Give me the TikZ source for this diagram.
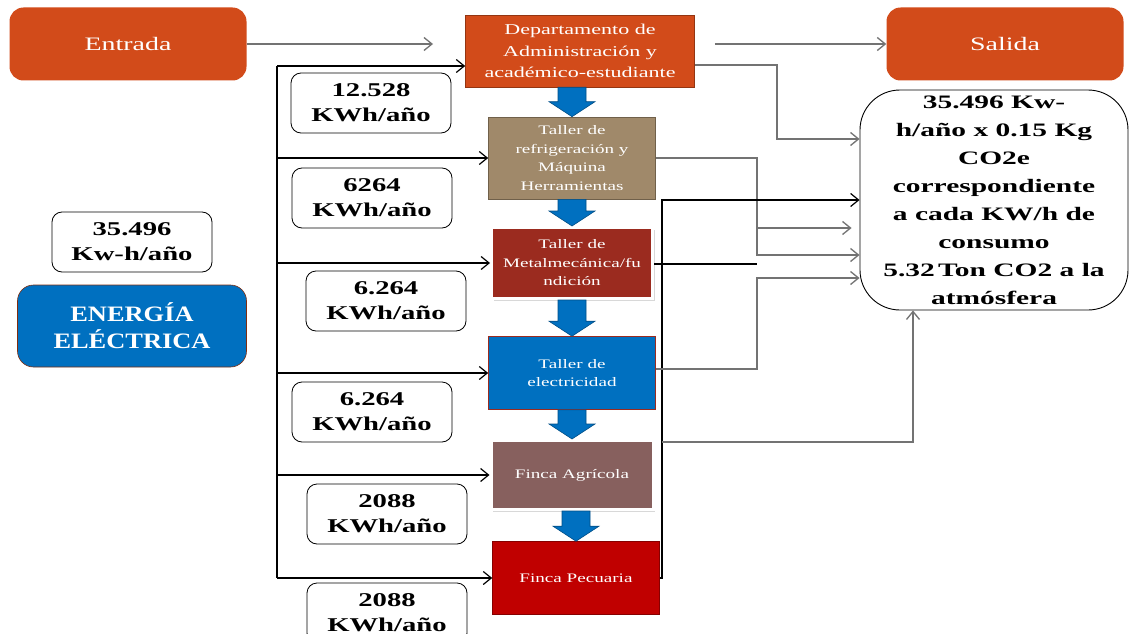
\documentclass[tikz,border=0pt]{standalone}
\usepackage{fontspec}
\setmainfont{Liberation Serif}[FakeStretch=1.47]
\newfontfamily\bigfont{Liberation Serif}[FakeStretch=1.55]
\newfontfamily\capfont{Liberation Serif}[FakeStretch=1.2]
\usetikzlibrary{arrows.meta,calc,shadows}

\definecolor{naranja}{HTML}{D24B1A}
\definecolor{arena}{HTML}{A0896A}
\definecolor{oxido}{HTML}{9B2B1F}
\definecolor{azul}{HTML}{0070C0}
\definecolor{malva}{HTML}{87605E}
\definecolor{rojo}{HTML}{C00000}

% flecha gruesa azul entre dos cajas
\newcommand{\flechaazul}[2]{%
  \fill[azul, draw=azul!70!black, line width=0.6pt]
    let \p1=(#1.south), \p2=(#2.north) in
    (\x2-14pt,\y1) -- (\x2+14pt,\y1) -- (\x2+14pt,\y2+15pt) -- (\x2+23pt,\y2+15pt)
    -- (\x2,\y2) -- (\x2-23pt,\y2+15pt) -- (\x2-14pt,\y2+15pt) -- cycle;}

\begin{document}
\begin{tikzpicture}[x=1pt, y=-1pt, >={Straight Barb[length=8pt,width=13pt]},
    cabeza/.style={fill=naranja, rounded corners=14pt, text=white, minimum width=237pt,
      minimum height=73pt, font=\fontsize{19}{22}\selectfont},
    depto/.style={fill=#1, draw=#1!70!black, line width=0.6pt, text=white, align=center,
      inner sep=0pt, font=\fontsize{13}{18.5}\selectfont},
    marco/.style={draw=white, line width=3pt,
      drop shadow={shadow xshift=2pt, shadow yshift=-2pt, opacity=0.3}},
    valor/.style={draw=black, line width=0.8pt, rounded corners=10pt, fill=white, align=center,
      minimum width=160pt, minimum height=60pt, inner sep=1pt,
      font=\bfseries\fontsize{19.5}{25}\selectfont},
    negra/.style={black, line width=1.2pt},
    gris/.style={black!55, line width=1.3pt}]

    % 1. fondo y margenes
    \useasboundingbox[fill=white] (0,0) rectangle (1130,634);

    % 2. entrada, salida y cajas de consumo
    \node[cabeza] (entrada) at (128,44) {Entrada};
    \node[cabeza] (salida) at (1005,44) {Salida};
    \node[depto=naranja, minimum width=229pt, minimum height=72pt,
      font=\fontsize{15}{21.5}\selectfont] (depto) at (580,51)
      {Departamento de\\Administración y\\académico-estudiante};
    \node[depto=arena, minimum width=167pt, minimum height=82pt] (tref) at (572,158)
      {Taller de\\refrigeración y\\Máquina\\Herramientas};
    \node[depto=oxido, marco, minimum width=161pt, minimum height=71pt] (tmet) at (572,263)
      {Taller de\\Metalmecánica/fu\\ndición};
    \node[depto=azul, draw=oxido, minimum width=167pt, minimum height=73pt] (tele) at (572,373)
      {Taller de\\electricidad};
    \node[depto=malva, marco, minimum width=162pt, minimum height=69pt] (fagr) at (572,475)
      {Finca Agrícola};
    \node[depto=rojo, minimum width=167pt, minimum height=73pt] (fpec) at (576,578)
      {Finca Pecuaria};

    % 3. flechas azules de arriba abajo
    \flechaazul{depto}{tref}
    \flechaazul{tref}{tmet}
    \flechaazul{tmet}{tele}
    \flechaazul{tele}{fagr}
    \flechaazul{fagr}{fpec}

    % 4. valores de consumo
    \node[valor] (v1) at (371,103) {12.528\\KWh/año};
    \node[valor] (v2) at (372,198) {6264\\KWh/año};
    \node[valor] (v3) at (386,301) {6.264\\KWh/año};
    \node[valor] (v4) at (372,412) {6.264\\KWh/año};
    \node[valor] (v5) at (387,514) {2088\\KWh/año};
    \node[valor] (v6) at (387,613) {2088\\KWh/año};
    \node[valor] (total) at (132,242) {35.496\\Kw-h/año};
    \node[fill=azul, draw=naranja!60!black, line width=0.6pt, rounded corners=16pt,
      minimum width=229pt, minimum height=82pt, align=center, text=white,
      font=\capfont\bfseries\fontsize{22}{27}\selectfont] (energia) at (132,326)
      {ENERGÍA\\ELÉCTRICA};

    % 5. caja de emisiones
    \node[draw=black, line width=0.9pt, rounded corners=40pt, minimum width=268pt,
      minimum height=220pt, inner sep=1pt, align=center,
      font=\bigfont\bfseries\fontsize{19}{28}\selectfont] (co2) at (994,200)
      {35.496 Kw-\\h/año x 0.15 Kg\\CO2e\\correspondiente\\a cada KW/h de\\consumo\\5.32\,Ton CO2 a la\\atmósfera};

    % 6. barra de alimentacion a la izquierda
    \coordinate (bus) at (277,66);
    \draw[negra] (bus) -- (bus |- fpec.west);
    \draw[negra,->] (bus) -- ([yshift=-15pt]depto.west);
    \foreach \n in {tref,tmet,tele,fagr,fpec}
        \draw[negra,->] (bus |- \n.west) -- (\n.west);

    % 7. flechas de arriba
    \coordinate (entra) at (433,44);
    \draw[gris,->] (entrada.east) -- (entra);
    \draw[gris,->] ([xshift=20pt]depto.east |- salida.west) -- (salida.west);

    % 8. conexiones hacia la caja de emisiones
    \coordinate (r1) at (777,139);
    \draw[gris,->] ([yshift=-14pt]depto.east) -| (r1) -- (co2.west |- r1);
    \coordinate (r2a) at (757,228);
    \coordinate (r2b) at (757,255);
    \draw[gris,->] (tref.east) -| (r2b) -- (co2.west |- r2b);
    \draw[gris,->] (r2a) -- ([xshift=-8pt]co2.west |- r2a);
    \coordinate (k) at (662,200);
    \coordinate (m) at (757,264);
    \draw[negra,->] (fpec.east) -| (k) -- (co2.west |- k);
    \draw[negra] (tmet.east |- m) -- (m);
    \coordinate (r3) at (757,278);
    \draw[gris,->] ([yshift=4pt]tele.east) -| (r3) -- (co2.west |- r3);
    \coordinate (r4) at (913,442);
    \draw[gris,->] (k |- r4) -- (r4) -- (r4 |- co2.south);

\end{tikzpicture}
\end{document}
